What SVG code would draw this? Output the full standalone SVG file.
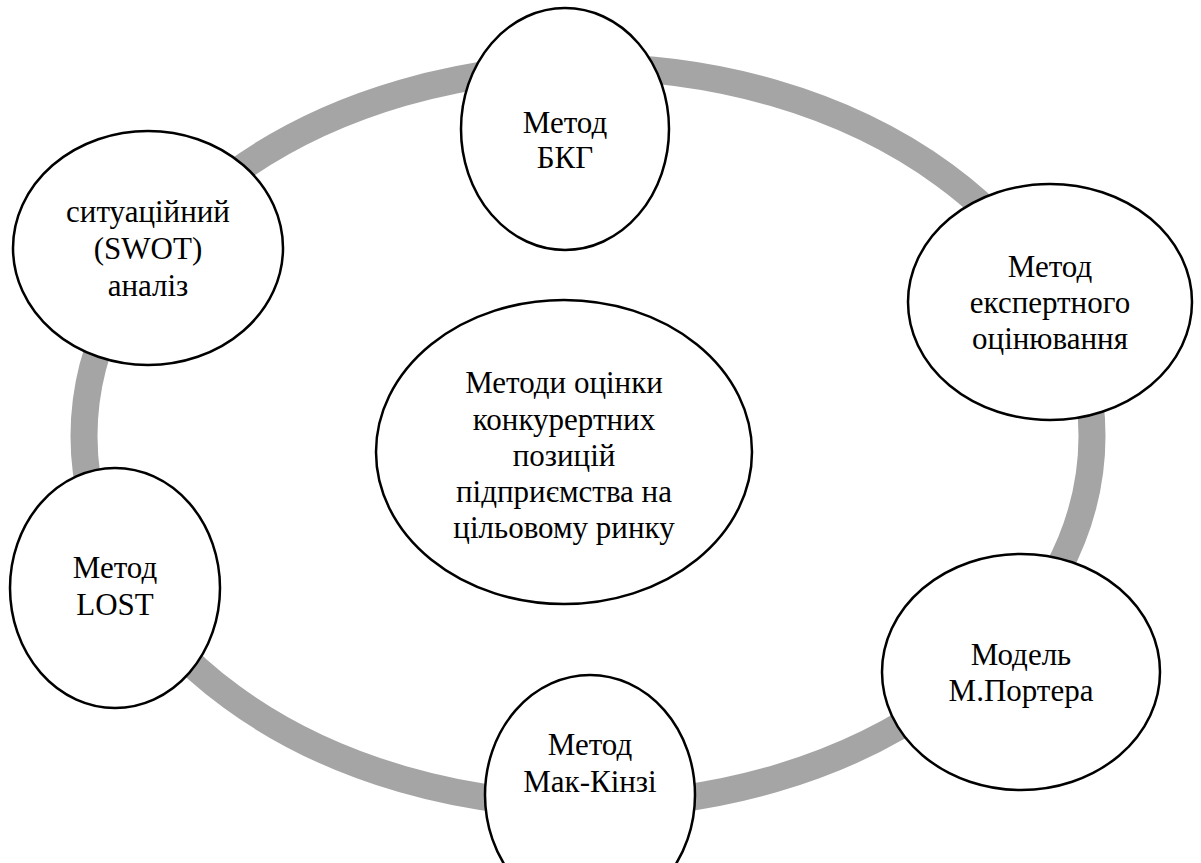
<svg xmlns="http://www.w3.org/2000/svg" width="1201" height="863" viewBox="0 0 1201 863">
<rect width="1201" height="863" fill="#ffffff"/>
<g id="connectors">
<ellipse cx="588" cy="436" rx="504" ry="369" fill="none" stroke="#a5a5a5" stroke-width="27"/>
</g>
<g id="node-bkg">
<ellipse cx="565" cy="129" rx="104" ry="121" fill="#ffffff" stroke="#000000" stroke-width="2.5"/>
<text x="565" y="133" text-anchor="middle" style="font-family:'Liberation Serif';font-size:31px">Метод</text>
<text x="565" y="168" text-anchor="middle" style="font-family:'Liberation Serif';font-size:31px">БКГ</text>
</g>
<g id="node-swot">
<ellipse cx="148" cy="248" rx="135" ry="117" fill="#ffffff" stroke="#000000" stroke-width="2.5"/>
<text x="148" y="222" text-anchor="middle" style="font-family:'Liberation Serif';font-size:31px">ситуаційний</text>
<text x="148" y="259" text-anchor="middle" style="font-family:'Liberation Serif';font-size:31px">(SWOT)</text>
<text x="148" y="296" text-anchor="middle" style="font-family:'Liberation Serif';font-size:31px">аналіз</text>
</g>
<g id="node-expert">
<ellipse cx="1050" cy="302" rx="142" ry="118" fill="#ffffff" stroke="#000000" stroke-width="2.5"/>
<text x="1050" y="277" text-anchor="middle" style="font-family:'Liberation Serif';font-size:31px">Метод</text>
<text x="1050" y="313" text-anchor="middle" style="font-family:'Liberation Serif';font-size:31px">експертного</text>
<text x="1050" y="349" text-anchor="middle" style="font-family:'Liberation Serif';font-size:31px">оцінювання</text>
</g>
<g id="node-center">
<ellipse cx="564" cy="452" rx="188" ry="152" fill="#ffffff" stroke="#000000" stroke-width="2.5"/>
<text x="564" y="393" text-anchor="middle" style="font-family:'Liberation Serif';font-size:31px">Методи оцінки</text>
<text x="564" y="430" text-anchor="middle" style="font-family:'Liberation Serif';font-size:31px">конкурертних</text>
<text x="564" y="466" text-anchor="middle" style="font-family:'Liberation Serif';font-size:31px">позицій</text>
<text x="564" y="502" text-anchor="middle" style="font-family:'Liberation Serif';font-size:31px">підприємства на</text>
<text x="564" y="538" text-anchor="middle" style="font-family:'Liberation Serif';font-size:31px">цільовому ринку</text>
</g>
<g id="node-lost">
<ellipse cx="115" cy="588" rx="105" ry="120" fill="#ffffff" stroke="#000000" stroke-width="2.5"/>
<text x="115" y="578" text-anchor="middle" style="font-family:'Liberation Serif';font-size:31px">Метод</text>
<text x="115" y="615" text-anchor="middle" style="font-family:'Liberation Serif';font-size:31px">LOST</text>
</g>
<g id="node-mckinsey">
<ellipse cx="590" cy="795" rx="105" ry="120" fill="#ffffff" stroke="#000000" stroke-width="2.5"/>
<text x="590" y="755" text-anchor="middle" style="font-family:'Liberation Serif';font-size:31px">Метод</text>
<text x="590" y="792" text-anchor="middle" style="font-family:'Liberation Serif';font-size:31px">Мак-Кінзі</text>
</g>
<g id="node-porter">
<ellipse cx="1021" cy="672" rx="139" ry="118" fill="#ffffff" stroke="#000000" stroke-width="2.5"/>
<text x="1021" y="665" text-anchor="middle" style="font-family:'Liberation Serif';font-size:31px">Модель</text>
<text x="1021" y="701" text-anchor="middle" style="font-family:'Liberation Serif';font-size:31px">М.Портера</text>
</g>
</svg>
